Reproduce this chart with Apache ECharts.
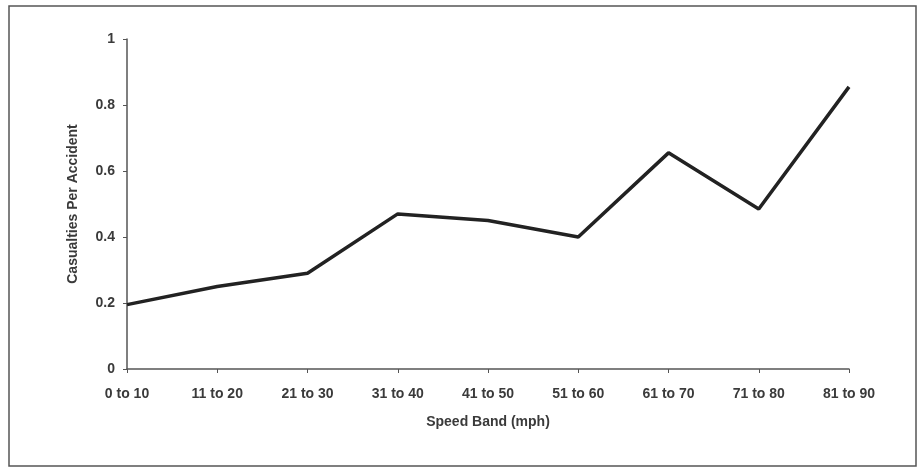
<!DOCTYPE html>
<html><head><meta charset="utf-8">
<script src="https://cdn.jsdelivr.net/npm/echarts@6/dist/echarts.min.js"></script>
<style>html,body{margin:0;padding:0;background:#fff}#c{width:921px;height:472px}</style>
</head><body><div id="c"></div>
<script>
const categories = ['0 to 10','11 to 20','21 to 30','31 to 40','41 to 50','51 to 60','61 to 70','71 to 80','81 to 90'];
const casualties = [0.195, 0.25, 0.29, 0.47, 0.45, 0.40, 0.655, 0.485, 0.855];
const yTicks = [0, 0.2, 0.4, 0.6, 0.8, 1];

const chart = echarts.init(document.getElementById('c'));
const font = 'Liberation Sans, Arial, sans-serif';
chart.setOption({
  backgroundColor: '#fff',
  animation: false,
  graphic: [{
    type: 'rect', shape: {x: 9, y: 6, width: 907, height: 460},
    style: {fill: 'none', stroke: '#555', lineWidth: 1.5}, silent: true
  }],
  grid: {left: 127, right: 72, top: 39, bottom: 103},
  xAxis: {
    type: 'category', data: categories, boundaryGap: false,
    name: 'Speed Band (mph)', nameLocation: 'middle', nameGap: 46,
    nameTextStyle: {color: '#3a3a3a', fontSize: 14, fontWeight: 'bold', fontFamily: font},
    axisLine: {lineStyle: {color: '#555', width: 1.5}},
    axisTick: {show: true, length: 4, lineStyle: {color: '#555'}},
    axisLabel: {color: '#3a3a3a', fontSize: 14, fontWeight: 'bold', fontFamily: font, margin: 18}
  },
  yAxis: {
    type: 'value', min: 0, max: 1, interval: 0.2,
    name: 'Casualties Per Accident', nameLocation: 'middle', nameGap: 47,
    nameTextStyle: {color: '#3a3a3a', fontSize: 14, fontWeight: 'bold', fontFamily: font},
    splitLine: {show: false},
    axisLine: {show: true, lineStyle: {color: '#555', width: 1.5}},
    axisTick: {show: true, length: 4, lineStyle: {color: '#555'}},
    axisLabel: {color: '#3a3a3a', fontSize: 14, fontWeight: 'bold', fontFamily: font, margin: 12,
      formatter: v => yTicks.includes(+v.toFixed(1)) ? String(+v.toFixed(1)) : ''}
  },
  series: [{
    type: 'line', data: casualties, showSymbol: false, symbol: 'none',
    lineStyle: {color: '#222', width: 3.5}
  }]
});
</script></body></html>
